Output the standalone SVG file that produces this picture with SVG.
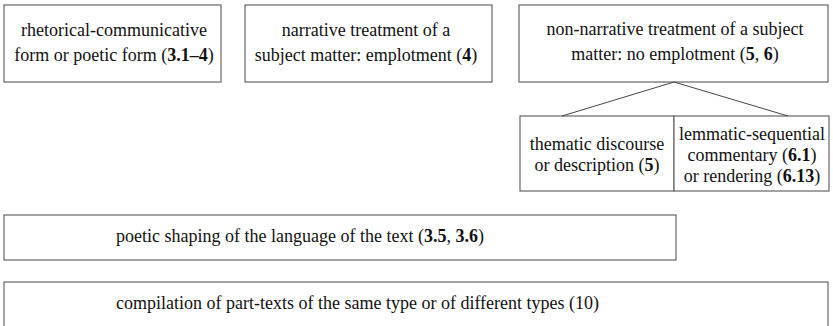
<svg xmlns="http://www.w3.org/2000/svg" width="833" height="326" viewBox="0 0 833 326">
<style>
rect{fill:#fff;stroke:#666;stroke-width:1.2}
line{stroke:#444;stroke-width:1}
text{font-family:"Liberation Serif","Times New Roman",serif;font-size:18px;fill:#111}
.c{text-anchor:middle}
.b{font-weight:bold}
</style>
<rect x="0" y="0" width="833" height="326" style="fill:#fff;stroke:none"/>
<g id="n1">
<rect x="4" y="5" width="217" height="77"/>
<text class="c" x="114" y="36">rhetorical-communicative</text>
<text class="c" x="114" y="61">form or poetic form (<tspan class="b">3.1–4</tspan>)</text>
</g>
<g id="n2">
<rect x="245" y="5" width="247" height="77"/>
<text class="c" x="366" y="36">narrative treatment of a</text>
<text class="c" x="366" y="61">subject matter: emplotment (<tspan class="b">4</tspan>)</text>
</g>
<g id="n3">
<rect x="519" y="5" width="309" height="77"/>
<text class="c" x="675" y="35">non-narrative treatment of a subject</text>
<text class="c" x="675" y="60">matter: no emplotment (<tspan class="b">5</tspan>, <tspan class="b">6</tspan>)</text>
</g>
<g id="n4">
<rect x="520" y="116" width="154" height="75"/>
<text class="c" x="597" y="150">thematic discourse</text>
<text class="c" x="597" y="171">or description (<tspan class="b">5</tspan>)</text>
</g>
<g id="n5">
<rect x="674" y="116" width="155" height="75"/>
<text class="c" x="752" y="140">lemmatic-sequential</text>
<text class="c" x="752" y="161">commentary (<tspan class="b">6.1</tspan>)</text>
<text class="c" x="752" y="182">or rendering (<tspan class="b">6.13</tspan>)</text>
</g>
<g id="n6">
<rect x="4" y="215" width="672" height="45"/>
<text x="116" y="242">poetic shaping of the language of the text (<tspan class="b">3.5</tspan>, <tspan class="b">3.6</tspan>)</text>
</g>
<g id="n7">
<rect x="4" y="282" width="824" height="50"/>
<text x="116" y="309">compilation of part-texts of the same type or of different types (10)</text>
</g>
<g id="connectors">
<line x1="674" y1="82" x2="562" y2="116"/>
<line x1="674" y1="82" x2="788" y2="116"/>
</g>
</svg>
